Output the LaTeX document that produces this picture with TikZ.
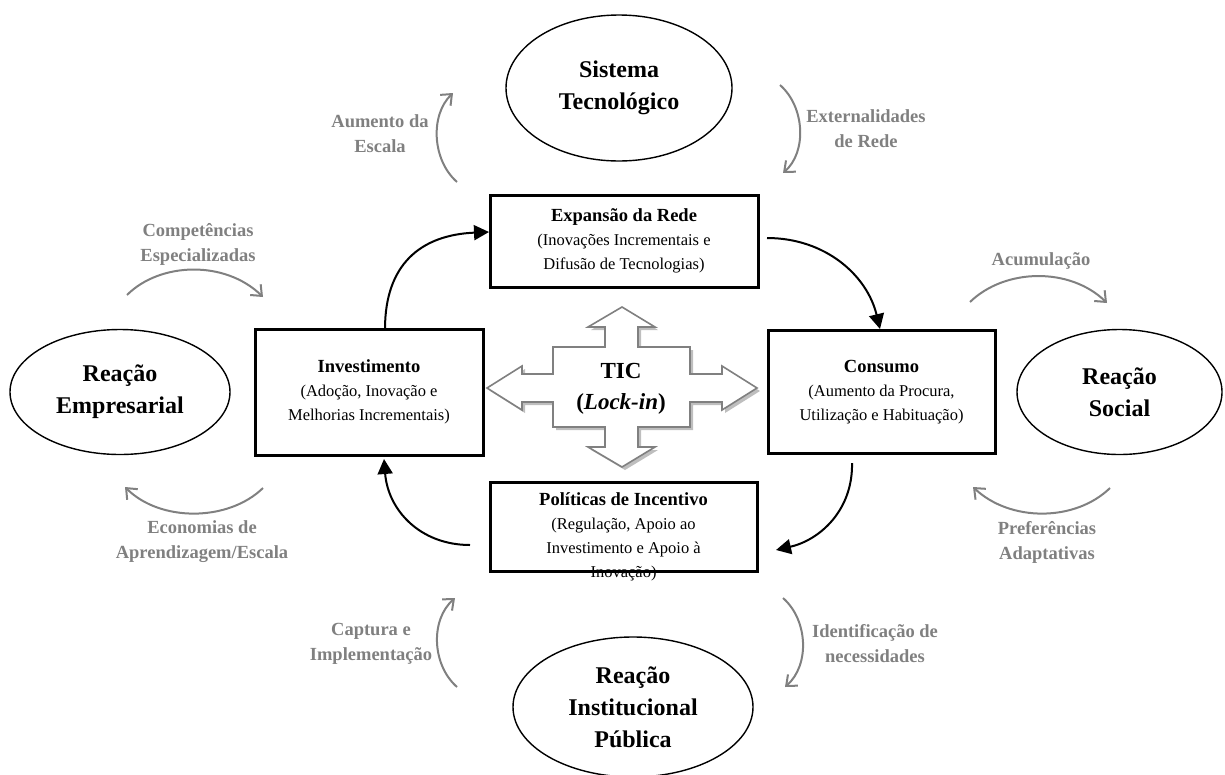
\documentclass[tikz,border=0pt]{standalone}
\usepackage{fontspec}
\setmainfont{Liberation Serif}
\usetikzlibrary{arrows.meta,shapes.geometric}
\definecolor{lblgray}{RGB}{128,128,128}
\definecolor{shadowgray}{RGB}{190,190,190}
\newcommand{\boxtitle}[1]{{\fontsize{18.5}{24}\selectfont\bfseries #1}}
\tikzset{
  boxnode/.style={draw=black,line width=3pt,fill=white,align=center,inner sep=2pt,
    font=\fontsize{16.5}{24}\selectfont},
  boxtext/.style={align=center,inner sep=0pt,font=\fontsize{16.5}{24}\selectfont},
  ellnode/.style={draw=black,line width=1.4pt,ellipse,inner sep=0pt,align=center,
    font=\fontsize{24}{32}\selectfont\bfseries},
  graylbl/.style={text=lblgray,align=center,font=\fontsize{18.5}{25}\selectfont\bfseries},
  grayarc/.style={draw=lblgray,line width=2pt,-{Straight Barb[length=9pt,width=15pt,line width=2pt]}},
  blackarc/.style={draw=black,line width=2pt,-{Triangle[length=15pt,width=15pt]}},
}
\begin{document}
\begin{tikzpicture}[x=1pt,y=-1pt]
\useasboundingbox (0,0) rectangle (1225,774);

% ellipses
\node[ellnode,minimum width=226,minimum height=146] (sis) at (619,88) {Sistema\\Tecnológico};
\node[ellnode,minimum width=220,minimum height=125] (emp) at (120,392) {Reação\\Empresarial};
\node[ellnode,minimum width=205,minimum height=125] (soc) at (1119.5,392) {Reação\\Social};
\node[ellnode,minimum width=240,minimum height=140] (inst) at (633,707) {Reação\\Institucional\\Pública};

% boxes
\node[boxnode,minimum width=268,minimum height=92] (exp) at (624,241)
  {\boxtitle{Expansão da Rede}\\(Inovações Incrementais e\\Difusão de Tecnologias)};
\node[boxnode,minimum width=228,minimum height=126] (inv) at (369,392)
  {\boxtitle{Investimento}\\(Adoção, Inovação e\\Melhorias Incrementais)};
\node[boxnode,minimum width=227,minimum height=123] (con) at (881.5,392)
  {\boxtitle{Consumo}\\(Aumento da Procura,\\Utilização e Habituação)};
\node[boxnode,minimum width=267,minimum height=89] (pol) at (623.5,526.5) {};
\node[boxtext,anchor=north] (poltxt) at (623.5,492)
  {\boxtitle{Políticas de Incentivo}\\(Regulação, Apoio ao\\Investimento e Apoio à\\Inovação)};

% central four-way arrow
\def\tic{(622,307) -- (655,327) -- (638,327) -- (638,347) -- (690,347) -- (690,374) -- (722,374) -- (722,366) -- (757,388) -- (722,410) -- (722,402) -- (690,402) -- (690,427) -- (638,427) -- (638,447) -- (655,447) -- (622,467) -- (588,447) -- (605,447) -- (605,427) -- (553,427) -- (553,402) -- (522,402) -- (522,410) -- (487,388) -- (522,366) -- (522,374) -- (553,374) -- (553,347) -- (605,347) -- (605,327) -- (588,327) -- cycle}
\begin{scope}[shift={(3,3)}]
\fill[shadowgray] \tic;
\end{scope}
\draw[lblgray,fill=white,line width=1.6pt,line join=miter] \tic;
\node[align=center,font=\fontsize{23}{31}\selectfont\bfseries] (tic) at (621,389) {TIC\\(\textit{Lock-in})};

% black cycle arrows
\coordinate (invtop) at (385,329);
\coordinate (expleft) at (489,232);
\coordinate (expright) at (767,238);
\coordinate (contop) at (880,329);
\coordinate (conbot) at (852,463);
\coordinate (polright) at (776,550);
\coordinate (polleft) at (470,545);
\coordinate (invbot) at (384,459);
\draw[blackarc] (invtop) .. controls (385,265) and (420,235) .. (expleft);
\draw[blackarc] (expright) .. controls (825,238) and (867,275) .. (contop);
\draw[blackarc] (conbot) .. controls (853,510) and (820,540) .. (polright);
\draw[blackarc] (polleft) .. controls (420,545) and (388,510) .. (invbot);

% gray arcs
\coordinate (a1s) at (457,182); \coordinate (a1e) at (453,93);
\coordinate (a2s) at (780,85);  \coordinate (a2e) at (783,173);
\coordinate (a3s) at (127,295); \coordinate (a3e) at (263,297);
\coordinate (a4s) at (970,302); \coordinate (a4e) at (1107,303);
\coordinate (a5s) at (1110,488); \coordinate (a5e) at (973,487);
\coordinate (a6s) at (263,488); \coordinate (a6e) at (125,487);
\coordinate (a7s) at (457,687); \coordinate (a7e) at (455,598);
\coordinate (a8s) at (783,598); \coordinate (a8e) at (785,687);
\draw[grayarc] (a1s) .. controls (432,160) and (430,115) .. (a1e);
\draw[grayarc] (a2s) .. controls (805,107) and (807,152) .. (a2e);
\draw[grayarc] (a3s) .. controls (160,262) and (225,260) .. (a3e);
\draw[grayarc] (a4s) .. controls (1005,268) and (1070,267) .. (a4e);
\draw[grayarc] (a5s) .. controls (1075,522) and (1010,522) .. (a5e);
\draw[grayarc] (a6s) .. controls (228,522) and (160,522) .. (a6e);
\draw[grayarc] (a7s) .. controls (432,665) and (430,620) .. (a7e);
\draw[grayarc] (a8s) .. controls (808,620) and (810,665) .. (a8e);

% gray labels
\node[graylbl] (l1) at (380,134) {Aumento da\\Escala};
\node[graylbl] (l2) at (866,129) {Externalidades\\de Rede};
\node[graylbl] (l3) at (198,244) {Competências\\Especializadas};
\node[graylbl] (l4) at (1041,261) {Acumulação};
\node[graylbl] (l5) at (1047,542) {Preferências\\Adaptativas};
\node[graylbl] (l6) at (202,542) {Economias de\\Aprendizagem/Escala};
\node[graylbl] (l7) at (371,644) {Captura e\\Implementação};
\node[graylbl] (l8) at (875,644) {Identificação de\\necessidades};
\end{tikzpicture}
\end{document}
